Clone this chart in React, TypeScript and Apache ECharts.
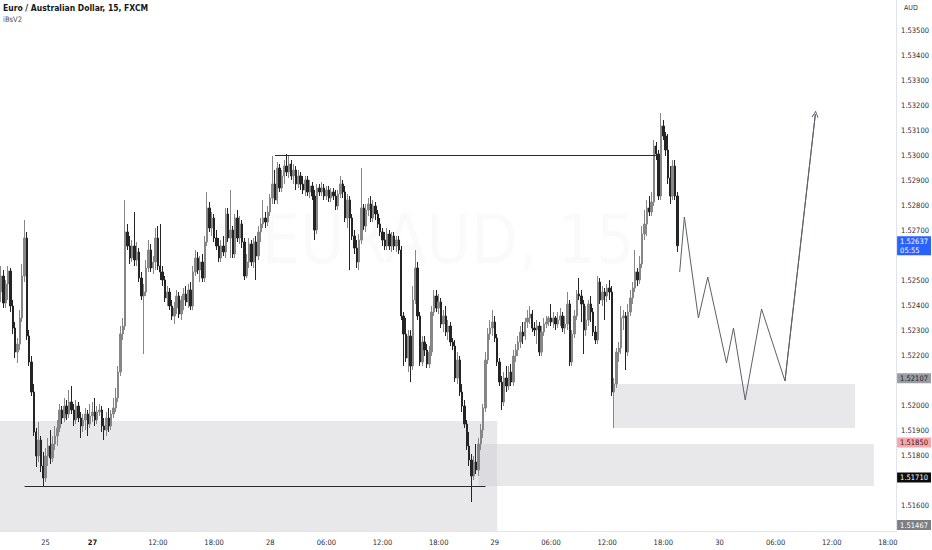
import React, { useEffect, useRef } from 'react';
import * as echarts from 'echarts';

const TITLE = 'Euro / Australian Dollar, 15, FXCM';
const INDICATOR = 'iBsV2';
const CURRENCY = 'AUD';
const WATERMARK = 'EURAUD, 15';
const WATERMARK_SUB = 'Euro / Australian Dollar';

// trading sessions of 15-minute bars (day of month, first bar time, number of bars)
const SESSIONS = [
  { day: 24, start: '19:15', bars: 39 },
  { day: 27, start: '05:00', bars: 344 },
];

// time-axis tick labels: [bar time, label]
const TIME_TICKS: [string, string][] = [
  ['25 00:00', '25'], ['27 05:00', '27'], ['27 12:00', '12:00'], ['27 18:00', '18:00'],
  ['28 00:00', '28'], ['28 06:00', '06:00'], ['28 12:00', '12:00'], ['28 18:00', '18:00'],
  ['29 00:00', '29'], ['29 06:00', '06:00'], ['29 12:00', '12:00'], ['29 18:00', '18:00'],
  ['30 00:00', '30'], ['30 06:00', '06:00'], ['30 12:00', '12:00'], ['30 18:00', '18:00'],
];
const BOLD_TICKS = ['27'];

// price axis range and hidden tick labels (covered by price tags)
const Y_MIN = 1.51496;
const Y_MAX = 1.5362;
const HIDDEN_PRICE_TICKS = ['1.53600', '1.52600', '1.52100', '1.51700', '1.51500'];

// OHLC candles: [open, close, low, high]
const CANDLES: number[][] = [
  [1.52452,1.52516,1.52412,1.52556],[1.52516,1.52408,1.52388,1.52540],[1.52408,1.52484,1.52388,1.52500],[1.52484,1.52536,1.52420,1.52556],
  [1.52536,1.52396,1.52372,1.52548],[1.52396,1.52308,1.52284,1.52420],[1.52308,1.52212,1.52188,1.52332],[1.52212,1.52244,1.52168,1.52268],
  [1.52244,1.52348,1.52220,1.52380],[1.52348,1.52516,1.52332,1.52564],[1.52516,1.52668,1.52492,1.52740],[1.52668,1.52276,1.52260,1.52692],
  [1.52276,1.52172,1.52156,1.52300],[1.52172,1.52052,1.52036,1.52196],[1.52052,1.51892,1.51876,1.52084],[1.51892,1.51796,1.51752,1.51908],
  [1.51796,1.51860,1.51772,1.51932],[1.51860,1.51756,1.51732,1.51876],[1.51756,1.51708,1.51676,1.51812],[1.51708,1.51796,1.51692,1.51828],
  [1.51796,1.51836,1.51756,1.51868],[1.51836,1.51788,1.51764,1.51900],[1.51788,1.51844,1.51772,1.51876],[1.51844,1.51876,1.51820,1.51916],
  [1.51876,1.51908,1.51836,1.51940],[1.51908,1.51980,1.51892,1.52004],[1.51980,1.51948,1.51924,1.51996],[1.51948,1.51996,1.51932,1.52028],
  [1.51996,1.51964,1.51940,1.52020],[1.51964,1.52012,1.51948,1.52060],[1.52012,1.51980,1.51964,1.52076],[1.51980,1.51940,1.51916,1.52004],
  [1.51940,1.51996,1.51924,1.52020],[1.51996,1.51948,1.51932,1.52012],[1.51948,1.51916,1.51868,1.51972],[1.51916,1.51940,1.51892,1.51964],
  [1.51940,1.51964,1.51900,1.51988],[1.51964,1.51924,1.51876,1.51980],[1.51924,1.51956,1.51908,1.52004],
  [1.51956,1.51972,1.51932,1.52012],[1.51972,1.51940,1.51916,1.52028],[1.51940,1.51972,1.51924,1.51996],[1.51972,1.51980,1.51956,1.52004],
  [1.51980,1.51916,1.51892,1.51996],[1.51916,1.51900,1.51860,1.51948],[1.51900,1.51948,1.51876,1.51972],[1.51948,1.51916,1.51892,1.51988],
  [1.51916,1.51964,1.51900,1.51980],[1.51964,1.51988,1.51948,1.52028],[1.51988,1.52028,1.51972,1.52068],[1.52028,1.52132,1.52012,1.52156],
  [1.52132,1.52284,1.52116,1.52316],[1.52284,1.52316,1.52260,1.52348],[1.52316,1.52692,1.52300,1.52820],[1.52692,1.52636,1.52620,1.52724],
  [1.52636,1.52588,1.52564,1.52676],[1.52588,1.52636,1.52572,1.52660],[1.52636,1.52580,1.52556,1.52772],[1.52580,1.52612,1.52556,1.52652],
  [1.52612,1.52508,1.52492,1.52628],[1.52508,1.52436,1.52420,1.52532],[1.52436,1.52452,1.52204,1.52484],[1.52452,1.52548,1.52436,1.52580],
  [1.52548,1.52620,1.52532,1.52660],[1.52620,1.52548,1.52532,1.52644],[1.52548,1.52572,1.52524,1.52596],[1.52572,1.52668,1.52540,1.52708],
  [1.52668,1.52556,1.52540,1.52716],[1.52556,1.52532,1.52500,1.52724],[1.52532,1.52500,1.52476,1.52556],[1.52500,1.52428,1.52412,1.52516],
  [1.52428,1.52452,1.52396,1.52476],[1.52452,1.52396,1.52380,1.52468],[1.52396,1.52356,1.52340,1.52420],[1.52356,1.52388,1.52324,1.52412],
  [1.52388,1.52436,1.52364,1.52460],[1.52436,1.52364,1.52348,1.52452],[1.52364,1.52420,1.52340,1.52436],[1.52420,1.52444,1.52380,1.52468],
  [1.52444,1.52412,1.52396,1.52476],[1.52412,1.52460,1.52388,1.52484],[1.52460,1.52396,1.52380,1.52492],[1.52396,1.52532,1.52380,1.52556],
  [1.52532,1.52588,1.52516,1.52620],[1.52588,1.52540,1.52524,1.52612],[1.52540,1.52572,1.52492,1.52596],[1.52572,1.52508,1.52492,1.52604],
  [1.52508,1.52652,1.52492,1.52676],[1.52652,1.52788,1.52636,1.52852],[1.52788,1.52708,1.52692,1.52812],[1.52708,1.52748,1.52676,1.52772],
  [1.52748,1.52668,1.52652,1.52764],[1.52668,1.52636,1.52620,1.52700],[1.52636,1.52588,1.52572,1.52668],[1.52588,1.52636,1.52572,1.52660],
  [1.52636,1.52612,1.52596,1.52676],[1.52612,1.52764,1.52588,1.52788],[1.52764,1.52668,1.52652,1.52788],[1.52668,1.52700,1.52588,1.52860],
  [1.52700,1.52604,1.52588,1.52716],[1.52604,1.52748,1.52588,1.52764],[1.52748,1.52668,1.52652,1.52780],[1.52668,1.52724,1.52644,1.52756],
  [1.52724,1.52652,1.52628,1.52740],[1.52652,1.52516,1.52500,1.52668],[1.52516,1.52572,1.52508,1.52604],[1.52572,1.52644,1.52548,1.52668],
  [1.52644,1.52572,1.52556,1.52660],[1.52572,1.52652,1.52548,1.52668],[1.52652,1.52596,1.52500,1.52676],[1.52596,1.52692,1.52580,1.52716],
  [1.52692,1.52724,1.52652,1.52748],[1.52724,1.52748,1.52708,1.52820],[1.52748,1.52732,1.52708,1.52772],[1.52732,1.52772,1.52716,1.52796],
  [1.52772,1.52828,1.52756,1.52844],[1.52828,1.52884,1.52804,1.52996],[1.52884,1.52820,1.52804,1.52940],[1.52820,1.52948,1.52804,1.52972],
  [1.52948,1.52868,1.52852,1.52964],[1.52868,1.52916,1.52852,1.52940],[1.52916,1.52956,1.52884,1.52980],[1.52956,1.52932,1.52916,1.53004],
  [1.52932,1.52964,1.52908,1.52996],[1.52964,1.52916,1.52900,1.52980],[1.52916,1.52940,1.52884,1.52964],[1.52940,1.52884,1.52860,1.52956],
  [1.52884,1.52916,1.52868,1.52940],[1.52916,1.52884,1.52860,1.52932],[1.52884,1.52860,1.52844,1.52916],[1.52860,1.52900,1.52836,1.52916],
  [1.52900,1.52852,1.52836,1.52916],[1.52852,1.52876,1.52828,1.52900],[1.52876,1.52836,1.52820,1.52892],[1.52836,1.52700,1.52660,1.52860],
  [1.52700,1.52868,1.52684,1.52884],[1.52868,1.52852,1.52836,1.52884],[1.52852,1.52868,1.52836,1.52892],[1.52868,1.52836,1.52820,1.52884],
  [1.52836,1.52860,1.52820,1.52876],[1.52860,1.52828,1.52812,1.52876],[1.52828,1.52852,1.52812,1.52868],[1.52852,1.52836,1.52820,1.52868],
  [1.52836,1.52796,1.52780,1.52860],[1.52796,1.52844,1.52780,1.52860],[1.52844,1.52884,1.52828,1.52916],[1.52884,1.52852,1.52828,1.52900],
  [1.52852,1.52748,1.52732,1.52876],[1.52748,1.52820,1.52708,1.52844],[1.52820,1.52748,1.52540,1.52836],[1.52748,1.52676,1.52660,1.52764],
  [1.52676,1.52628,1.52604,1.52700],[1.52628,1.52572,1.52548,1.52660],[1.52572,1.52660,1.52540,1.52684],[1.52660,1.52788,1.52644,1.52948],
  [1.52788,1.52716,1.52700,1.52804],[1.52716,1.52780,1.52692,1.52804],[1.52780,1.52804,1.52756,1.52828],[1.52804,1.52748,1.52732,1.52836],
  [1.52748,1.52796,1.52732,1.52820],[1.52796,1.52764,1.52740,1.52812],[1.52764,1.52724,1.52708,1.52780],[1.52724,1.52692,1.52676,1.52748],
  [1.52692,1.52660,1.52636,1.52708],[1.52660,1.52636,1.52620,1.52692],[1.52636,1.52684,1.52620,1.52708],[1.52684,1.52636,1.52620,1.52700],
  [1.52636,1.52676,1.52612,1.52692],[1.52676,1.52636,1.52620,1.52692],[1.52636,1.52660,1.52612,1.52676],[1.52660,1.52620,1.52604,1.52676],
  [1.52620,1.52356,1.52340,1.52636],[1.52356,1.52284,1.52156,1.52372],[1.52284,1.52188,1.52172,1.52348],[1.52188,1.52276,1.52132,1.52300],
  [1.52276,1.52156,1.52092,1.52300],[1.52156,1.52420,1.52140,1.52476],[1.52420,1.52548,1.52404,1.52620],[1.52548,1.52356,1.52340,1.52572],
  [1.52356,1.52172,1.52156,1.52372],[1.52172,1.52252,1.52156,1.52276],[1.52252,1.52220,1.52196,1.52276],[1.52220,1.52164,1.52148,1.52244],
  [1.52164,1.52212,1.52148,1.52236],[1.52212,1.52372,1.52196,1.52396],[1.52372,1.52436,1.52356,1.52460],[1.52436,1.52388,1.52372,1.52460],
  [1.52388,1.52412,1.52364,1.52444],[1.52412,1.52324,1.52308,1.52428],[1.52324,1.52356,1.52292,1.52380],[1.52356,1.52292,1.52276,1.52396],
  [1.52292,1.52316,1.52260,1.52340],[1.52316,1.52252,1.52236,1.52332],[1.52252,1.52236,1.52220,1.52268],[1.52236,1.52108,1.52092,1.52260],
  [1.52108,1.52180,1.52084,1.52212],[1.52180,1.52052,1.52036,1.52196],[1.52052,1.51996,1.51972,1.52084],[1.51996,1.51924,1.51908,1.52020],
  [1.51924,1.51836,1.51820,1.51940],[1.51836,1.51780,1.51756,1.51892],[1.51780,1.51716,1.51612,1.51804],[1.51716,1.51772,1.51700,1.51796],
  [1.51772,1.51740,1.51724,1.51844],[1.51740,1.51844,1.51716,1.51868],[1.51844,1.51900,1.51820,1.51924],[1.51900,1.51988,1.51868,1.52004],
  [1.51988,1.52180,1.51972,1.52212],[1.52180,1.52284,1.52164,1.52308],[1.52284,1.52308,1.52260,1.52340],[1.52308,1.52332,1.52276,1.52380],
  [1.52332,1.52268,1.52252,1.52356],[1.52268,1.52172,1.52156,1.52284],[1.52172,1.52092,1.52076,1.52188],[1.52092,1.52012,1.51980,1.52116],
  [1.52012,1.52108,1.51996,1.52132],[1.52108,1.52076,1.52052,1.52156],[1.52076,1.52132,1.52060,1.52156],[1.52132,1.52092,1.52076,1.52164],
  [1.52092,1.52196,1.52076,1.52220],[1.52196,1.52220,1.52172,1.52244],[1.52220,1.52252,1.52196,1.52276],[1.52252,1.52292,1.52228,1.52316],
  [1.52292,1.52276,1.52244,1.52332],[1.52276,1.52332,1.52260,1.52348],[1.52332,1.52348,1.52308,1.52380],[1.52348,1.52364,1.52324,1.52396],
  [1.52364,1.52308,1.52292,1.52380],[1.52308,1.52300,1.52276,1.52332],[1.52300,1.52316,1.52244,1.52340],[1.52316,1.52212,1.52196,1.52332],
  [1.52212,1.52292,1.52196,1.52316],[1.52292,1.52324,1.52276,1.52348],[1.52324,1.52332,1.52308,1.52356],[1.52332,1.52348,1.52316,1.52356],
  [1.52348,1.52332,1.52316,1.52404],[1.52332,1.52348,1.52308,1.52372],[1.52348,1.52324,1.52300,1.52356],[1.52324,1.52340,1.52308,1.52372],
  [1.52340,1.52356,1.52316,1.52388],[1.52356,1.52308,1.52292,1.52372],[1.52308,1.52324,1.52284,1.52356],[1.52324,1.52404,1.52300,1.52452],
  [1.52404,1.52172,1.52156,1.52420],[1.52172,1.52284,1.52156,1.52300],[1.52284,1.52356,1.52268,1.52380],[1.52356,1.52444,1.52340,1.52460],
  [1.52444,1.52436,1.52420,1.52508],[1.52436,1.52404,1.52332,1.52460],[1.52404,1.52300,1.52204,1.52420],[1.52300,1.52340,1.52276,1.52396],
  [1.52340,1.52404,1.52316,1.52420],[1.52404,1.52372,1.52332,1.52436],[1.52372,1.52292,1.52276,1.52388],[1.52292,1.52260,1.52244,1.52316],
  [1.52260,1.52492,1.52244,1.52516],[1.52492,1.52420,1.52404,1.52508],[1.52420,1.52452,1.52396,1.52476],[1.52452,1.52436,1.52340,1.52468],
  [1.52436,1.52468,1.52412,1.52484],[1.52468,1.52452,1.52420,1.52500],[1.52452,1.52052,1.52036,1.52476],[1.52052,1.52084,1.51908,1.52108],
  [1.52084,1.52212,1.52068,1.52228],[1.52212,1.52228,1.52172,1.52252],[1.52228,1.52348,1.52204,1.52396],[1.52348,1.52356,1.52300,1.52380],
  [1.52356,1.52212,1.52140,1.52372],[1.52212,1.52372,1.52196,1.52404],[1.52372,1.52428,1.52356,1.52460],[1.52428,1.52468,1.52404,1.52492],
  [1.52468,1.52532,1.52452,1.52620],[1.52532,1.52500,1.52476,1.52548],[1.52500,1.52564,1.52484,1.52596],[1.52564,1.52684,1.52548,1.52716],
  [1.52684,1.52724,1.52660,1.52780],[1.52724,1.52788,1.52676,1.52820],[1.52788,1.52772,1.52756,1.52836],[1.52772,1.52812,1.52756,1.52852],
  [1.52812,1.53036,1.52796,1.53060],[1.53036,1.53004,1.52980,1.53052],[1.53004,1.52836,1.52820,1.53020],[1.52836,1.53116,1.52820,1.53168],
  [1.53116,1.53076,1.53060,1.53140],[1.53076,1.53020,1.52996,1.53092],[1.53020,1.52908,1.52884,1.53084],[1.52908,1.52836,1.52804,1.52956],
  [1.52836,1.52956,1.52820,1.52980],[1.52956,1.52836,1.52820,1.52980],[1.52836,1.52637,1.52612,1.52852],
];

// projected path drawn after the last candle: [bar time, price]
const PROJECTION: [string, number][] = [
  ['29 19:45', 1.52532], ['29 20:15', 1.52752], ['29 21:45', 1.52348], ['29 22:45', 1.52512],
  ['30 00:45', 1.52168], ['30 01:30', 1.52308], ['30 02:45', 1.5202], ['30 04:30', 1.52384],
  ['30 07:00', 1.52096], ['30 10:15', 1.53164],
];

// shaded zones: [from bar time or null (chart start), to bar time, upper price, lower price or null (chart bottom)]
const ZONES: [string | null, string, number, number | null][] = [
  [null, '29 00:15', 1.51936, null],
  ['28 22:15', '30 16:30', 1.51844, 1.51676],
  ['29 12:45', '30 14:30', 1.52084, 1.51908],
];

// horizontal levels: [from, to, price]
const LEVELS: [string, string, number][] = [
  ['28 00:30', '29 17:30', 1.5300],
  ['24 21:45', '28 23:00', 1.51676],
];

// price tags on the price scale: [price, text, background, text colour]
const PRICE_TAGS: [number, string, string, string][] = [
  [1.52637, '1.52637\n05:55', '#2962ff', '#ffffff'],
  [1.52107, '1.52107', '#9a9ca3', '#1e1e1e'],
  [1.5185, '1.51850', '#f7a6ad', '#3a1a1a'],
  [1.5171, '1.51710', '#0c0c0c', '#ffffff'],
  [1.5152, '1.51467', '#7d7f86', '#ffffff'],
];

const FONT = "'Liberation Sans Narrow', 'DejaVu Sans Condensed', 'Noto Sans', sans-serif";
const UP = '#868686';
const DOWN = '#242424';

function buildCategories(): string[] {
  const out: string[] = [];
  const pad = (n: number) => String(n).padStart(2, '0');
  for (const s of SESSIONS) {
    const [h, m] = s.start.split(':').map(Number);
    let t = h * 60 + m;
    for (let k = 0; k < s.bars; k++) {
      const day = s.day + Math.floor(t / 1440);
      const mins = t % 1440;
      out.push(`${day} ${pad(Math.floor(mins / 60))}:${pad(mins % 60)}`);
      t += 15;
    }
  }
  return out;
}

export default function App() {
  const ref = useRef<HTMLDivElement>(null);

  useEffect(() => {
    if (!ref.current) return;
    const chart = echarts.init(ref.current, undefined, { renderer: 'svg' });
    const cats = buildCategories();
    const tickMap = new Map(TIME_TICKS);

    const levelLines = LEVELS.map(([a, b, p]) => [
      { coord: [a, p], lineStyle: { color: '#2a2a2a', width: 1, type: 'solid' }, label: { show: false } },
      { coord: [b, p] },
    ]);
    const tagLines = PRICE_TAGS.map(([p, text, bg, fg]) => ({
      yAxis: p,
      lineStyle: { color: 'rgba(0,0,0,0)', width: 0 },
      label: {
        show: true,
        position: 'end',
        distance: 1,
        formatter: text,
        backgroundColor: bg,
        color: fg,
        fontSize: 7.5,
        lineHeight: 9,
        fontFamily: FONT,
        padding: [1, 3, 0, 3],
        opacity: 1,
      },
    }));

    const option: any = {
      animation: false,
      backgroundColor: '#ffffff',
      title: {
        text: TITLE,
        subtext: INDICATOR,
        left: 3,
        top: 3,
        itemGap: 3,
        padding: 0,
        textStyle: { fontSize: 8.5, fontWeight: 600, color: '#131722', fontFamily: FONT },
        subtextStyle: { fontSize: 7.5, color: '#4a4a4a', fontFamily: FONT },
      },
      grid: { left: 0, right: 33, top: 0, bottom: 19, containLabel: false },
      xAxis: {
        type: 'category',
        data: cats,
        boundaryGap: true,
        axisLine: { show: true, lineStyle: { color: '#e0e3eb', width: 1 } },
        axisTick: { show: false },
        splitLine: { show: false },
        axisLabel: {
          interval: (_i: number, v: string) => tickMap.has(v),
          formatter: (v: string) => {
            const t = tickMap.get(v) ?? '';
            return BOLD_TICKS.includes(t) ? `{b|${t}}` : t;
          },
          fontSize: 7.5,
          color: '#2a2e39',
          margin: 7,
          fontFamily: FONT,
          rich: { b: { fontSize: 7.5, fontWeight: 'bold', color: '#131722', fontFamily: FONT } },
        },
      },
      yAxis: {
        type: 'value',
        position: 'right',
        min: Y_MIN,
        max: Y_MAX,
        splitNumber: 21,
        axisLine: { show: true, lineStyle: { color: '#e0e3eb', width: 1 } },
        axisTick: { show: false },
        splitLine: { show: false },
        axisLabel: {
          showMinLabel: false,
          showMaxLabel: false,
          margin: 5,
          fontSize: 7.5,
          color: '#2a2e39',
          fontFamily: FONT,
          formatter: (v: number) => {
            const s = v.toFixed(5);
            return HIDDEN_PRICE_TICKS.includes(s) ? '' : s;
          },
        },
      },
      graphic: [
        {
          type: 'text',
          left: 904,
          top: 4,
          style: { text: CURRENCY, fontSize: 7, fill: '#2a2e39', fontFamily: FONT },
        },
        {
          type: 'text',
          x: 448,
          y: 239,
          z: -10,
          style: {
            text: WATERMARK,
            fontSize: 68,
            fill: 'rgba(19,23,34,0.02)',
            fontFamily: FONT,
            align: 'center',
            verticalAlign: 'middle',
          },
        },
        {
          type: 'text',
          x: 446,
          y: 297,
          z: -10,
          style: {
            text: WATERMARK_SUB,
            fontSize: 26,
            fill: 'rgba(19,23,34,0.02)',
            fontFamily: FONT,
            align: 'center',
            verticalAlign: 'middle',
          },
        },
      ],
      series: [
        {
          name: 'zones',
          type: 'line',
          data: [],
          silent: true,
          z: 1,
          markArea: {
            silent: true,
            itemStyle: { color: 'rgba(203,205,211,0.45)' },
            data: ZONES.map(([a, b, top, bottom]) => [
              { xAxis: a ?? undefined, yAxis: bottom ?? undefined },
              { xAxis: b, yAxis: top },
            ]),
          },
        },
        {
          name: 'EURAUD',
          type: 'candlestick',
          data: CANDLES,
          barWidth: 1.9,
          z: 3,
          silent: true,
          itemStyle: { color: UP, color0: DOWN, borderColor: UP, borderColor0: DOWN, borderWidth: 1 },
          markLine: {
            silent: true,
            precision: 5,
            symbol: ['none', 'none'],
            label: { show: false },
            data: [...levelLines, ...tagLines],
          },
        },
        {
          name: 'projection',
          type: 'line',
          data: PROJECTION,
          symbol: 'none',
          silent: true,
          z: 4,
          lineStyle: { color: '#5d606b', width: 1 },
          markLine: {
            silent: true,
            precision: 5,
            symbol: ['none', 'path://M0,10 L5,0 L10,10 L8.6,10 L5,2.6 L1.4,10 Z'],
            symbolSize: [7, 7],
            label: { show: false },
            lineStyle: { color: '#5d606b', width: 1, type: 'solid' },
            data: [[
              { coord: PROJECTION[PROJECTION.length - 2] },
              { coord: PROJECTION[PROJECTION.length - 1] },
            ]],
          },
        },
      ],
    };

    chart.setOption(option);
    return () => chart.dispose();
  }, []);

  return <div ref={ref} style={{ width: 932, height: 550, position: 'absolute', left: 0, top: 0 }} />;
}
